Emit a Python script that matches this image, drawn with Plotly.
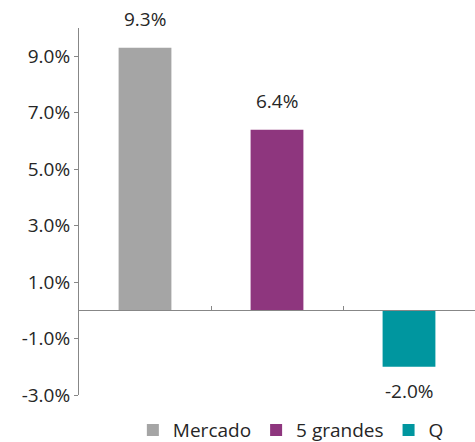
import plotly.graph_objects as go

categories = ["Mercado", "5 grandes", "Q"]
values = [9.3, 6.4, -2.0]
colors = ["#A5A5A5", "#8E367E", "#00969F"]
y_ticks = [-3, -1, 1, 3, 5, 7, 9]

y_min, y_max = -3, 10
font_family = "Open Sans"
text_color = "#262626"
axis_color = "#878787"

fig = go.Figure()

for cat, val, col in zip(categories, values, colors):
    fig.add_trace(go.Bar(
        x=[cat],
        y=[val],
        name=cat,
        marker=dict(color=col, line=dict(width=0)),
        width=0.4,
        hoverinfo="skip",
    ))
    fig.add_annotation(
        x=cat,
        y=val,
        text=f"{val:.1f}%",
        showarrow=False,
        yanchor="middle",
        yshift=29 if val >= 0 else -24,
        font=dict(family=font_family, size=19, color=text_color),
    )

fig.update_layout(
    width=475,
    height=442,
    margin=dict(l=79, r=0, t=28, b=47, autoexpand=False),
    paper_bgcolor="white",
    plot_bgcolor="white",
    showlegend=True,
    barmode="overlay",
    font=dict(family=font_family, size=19, color=text_color),
    legend=dict(
        orientation="h",
        x=0.535,
        xanchor="center",
        y=-0.044,
        yanchor="top",
        font=dict(family=font_family, size=19, color=text_color),
        itemclick=False,
    ),
    xaxis=dict(
        type="category",
        categoryorder="array",
        categoryarray=categories,
        anchor="free",
        position=(0 - y_min) / (y_max - y_min),
        showline=True,
        linecolor=axis_color,
        linewidth=1,
        ticks="inside",
        tickson="boundaries",
        ticklen=4,
        tickcolor=axis_color,
        showticklabels=False,
        showgrid=False,
        zeroline=False,
        automargin=False,
    ),
    yaxis=dict(
        range=[y_min, y_max],
        tickvals=y_ticks,
        ticktext=[f"{v:.1f}%" for v in y_ticks],
        ticks="outside",
        ticklen=4,
        tickcolor=axis_color,
        showline=True,
        linecolor=axis_color,
        linewidth=1,
        showgrid=False,
        zeroline=False,
        automargin=False,
        tickfont=dict(family=font_family, size=19, color=text_color),
    ),
)

# the page body has an 8px default margin; drop it so the figure sits at 0,0
fig.write_html(
    "out.html",
    config={"displayModeBar": False},
    post_script="document.body.style.margin = '0';",
)
